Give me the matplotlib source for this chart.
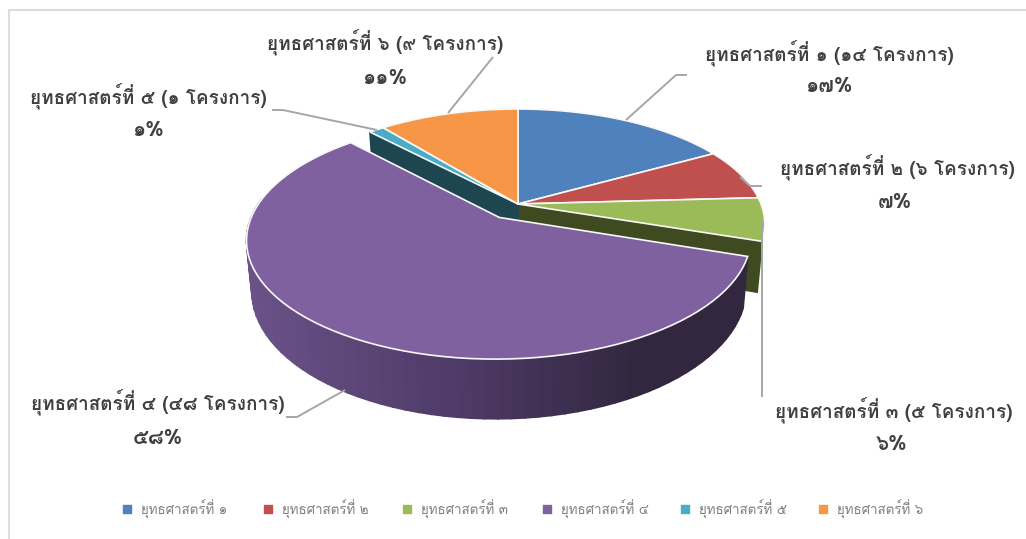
import numpy as np
import matplotlib
matplotlib.use('Agg')
import matplotlib.pyplot as plt
from matplotlib.colors import to_rgb

categories = ['ยุทธศาสตร์ที่ ๑', 'ยุทธศาสตร์ที่ ๒', 'ยุทธศาสตร์ที่ ๓',
              'ยุทธศาสตร์ที่ ๔', 'ยุทธศาสตร์ที่ ๕', 'ยุทธศาสตร์ที่ ๖']
projects = [14, 6, 5, 48, 1, 9]
project_labels = ['๑๔', '๖', '๕', '๔๘', '๑', '๙']
percent_labels = ['๑๗%', '๗%', '๖%', '๕๘%', '๑%', '๑๑%']

colors = ['#4f81bd', '#c0504d', '#9bbb59', '#7f61a0', '#4bacc6', '#f79646']
wall_colors = ['#2f4d71', '#73302e', '#3f4a20', '#4a3862', '#1e4650', '#94592a']

# label centres and leader lines, in pixels
label_pos = [(829, 53), (897, 167), (894, 410), (158, 402), (148, 96), (385, 42)]
pct_pos = [(829, 87), (895, 203), (892, 445), (158, 438), (148, 130), (385, 78)]
leaders = [
    [(626, 120), (676, 75), (687, 75)],
    [(740, 177), (750, 186), (762, 186)],
    [(762, 220), (762, 397)],
    [(345, 390), (297, 417), (286, 417)],
    [(377, 130), (283, 110), (272, 110)],
    [(448, 113), (493, 57)],
]
legend_x = [127, 268, 407, 547, 685, 823]

CX, CY = 518, 204
RX, RY, PERSP = 243, 111.6, 0.175
DEPTH = 48
EXPLODED = 3
EXPLODE = 0.14
FONT = ['Loma', 'DejaVu Sans']


def project(u, v):
    w = 1 + PERSP * v
    return CX + RX * u / w, CY - RY * v / w


def lower(u, v):
    x, y = project(u, v)
    return CX + 0.98 * (x - CX), y + DEPTH / (1 + PERSP * v)


def quad(ax, top, bottom, color):
    ax.fill([top[0][0], top[0][1], bottom[0][1], bottom[0][0]],
            [top[1][0], top[1][1], bottom[1][1], bottom[1][0]],
            facecolor=color, edgecolor=color, lw=1.2, zorder=2)


def wall_shade(x):
    stops = ['#6a5288', '#4d3a66', '#33273f']
    rgb = np.array([to_rgb(c) for c in stops])
    return [np.interp(x, [250, 470, 640], rgb[:, i]) for i in range(3)]


edges = np.concatenate([[0], np.cumsum(projects)]) / np.sum(projects) * 2 * np.pi

fig = plt.figure(figsize=(10.26, 5.39), dpi=100)
ax = fig.add_axes([0, 0, 1, 1])
ax.set_xlim(0, 1026)
ax.set_ylim(539, 0)
ax.axis('off')

# chart frame, only the top and left sides fall inside the picture
ax.plot([9, 9, 1026], [539, 10, 10], color='#dcdcdc', lw=1.5)

tops = []
for i in range(len(projects)):
    t = np.linspace(edges[i], edges[i + 1], 80)
    u0, v0 = 0, 0
    if i == EXPLODED:
        mid = (edges[i] + edges[i + 1]) / 2
        u0, v0 = EXPLODE * np.sin(mid), EXPLODE * np.cos(mid)
    u, v = u0 + np.sin(t), v0 + np.cos(t)

    # cut faces opened up by the exploded slice
    if i == EXPLODED - 1:
        quad(ax, project(np.array([0, u[-1]]), np.array([0, v[-1]])),
             lower(np.array([0, u[-1]]), np.array([0, v[-1]])), wall_colors[i])
    if i == EXPLODED + 1:
        quad(ax, project(np.array([0, u[0]]), np.array([0, v[0]])),
             lower(np.array([0, u[0]]), np.array([0, v[0]])), wall_colors[i])

    # outer wall of the exploded slice, front part only
    if i == EXPLODED:
        for j in range(len(t) - 1):
            if v[j] < 0.05:
                idx = [j, j + 1]
                top = project(u[idx], v[idx])
                quad(ax, top, lower(u[idx], v[idx]), wall_shade(top[0][0]))
    tops.append((u0, v0, u, v))

for i in [0, 1, 2, 4, 5, 3]:
    u0, v0, u, v = tops[i]
    x, y = project(np.concatenate([[u0], u]), np.concatenate([[v0], v]))
    ax.fill(x, y, facecolor=colors[i], edgecolor='#f8f8f8', lw=1.2, zorder=3)

for pts in leaders:
    xs, ys = zip(*pts)
    ax.plot(xs, ys, color='#a6a6a6', lw=1.4, zorder=4, solid_capstyle='butt')

for i, name in enumerate(categories):
    ax.text(*label_pos[i], f'{name} ({project_labels[i]} โครงการ)', ha='center',
            va='center', fontsize=13.6, color='#404040', family=FONT,
            fontweight='bold', zorder=5)
    ax.text(*pct_pos[i], percent_labels[i], ha='center', va='center', fontsize=15,
            color='#404040', family=FONT, fontweight='bold', zorder=5)
    ax.scatter(legend_x[i], 509, marker='s', s=30, color=colors[i], zorder=5)
    ax.text(legend_x[i] + 14, 509, name, ha='left', va='center', fontsize=9.6,
            color='#7f7f7f', family=FONT, zorder=5)

fig.savefig('out.png', dpi=100)
